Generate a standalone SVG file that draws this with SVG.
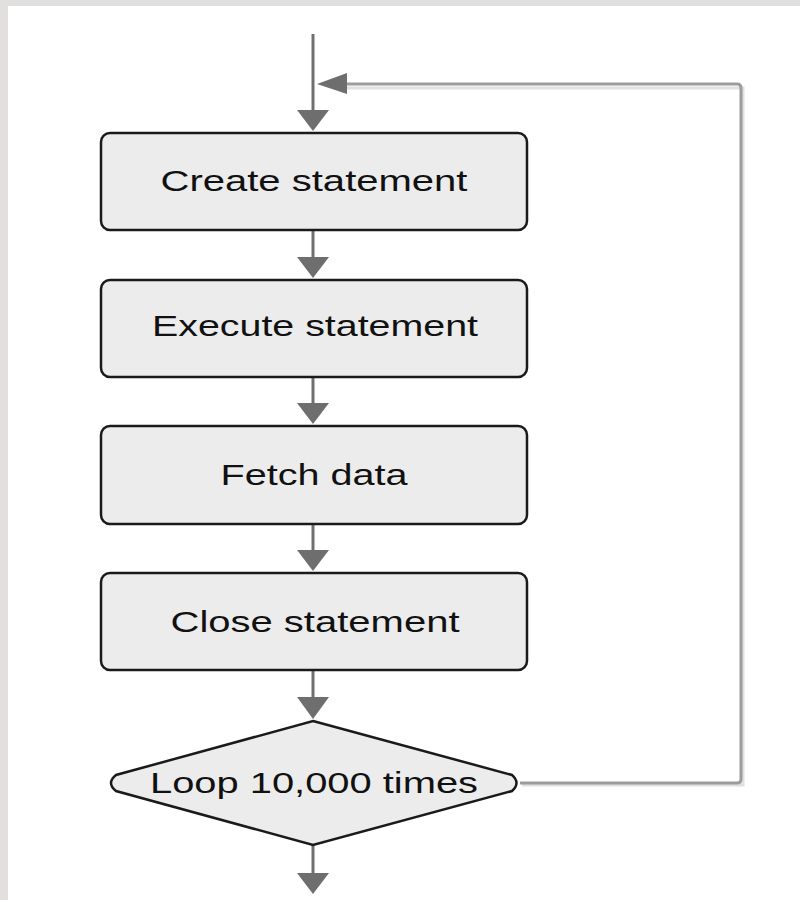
<svg xmlns="http://www.w3.org/2000/svg" width="800" height="900" viewBox="0 0 800 900">
<style>
.box{fill:#ececec;stroke:#1a1a1a;stroke-width:2.5}
.lbl{font-family:"Liberation Sans",Arial,sans-serif;font-size:29px;fill:#111;text-anchor:middle}
.flow{stroke:#707070;stroke-width:3;fill:none}
.loop{stroke:#9c9c9c;stroke-width:3;fill:none}
.loopsh{stroke:#e0e0e0;stroke-width:3;fill:none}
.ah{fill:#6e6e6e}
</style>
<rect x="0" y="0" width="800" height="900" fill="#e2dfdf"/>
<rect x="8" y="6" width="792" height="894" fill="#ffffff"/>
<g id="connectors">
  <line class="flow" x1="313" y1="34" x2="313" y2="112"/>
  <polygon class="ah" points="297,110 329,110 313,131"/>
  <line class="flow" x1="313" y1="231" x2="313" y2="259"/>
  <polygon class="ah" points="297,257 329,257 313,278"/>
  <line class="flow" x1="313" y1="377" x2="313" y2="405"/>
  <polygon class="ah" points="297,403 329,403 313,424"/>
  <line class="flow" x1="313" y1="524" x2="313" y2="552"/>
  <polygon class="ah" points="297,550 329,550 313,571"/>
  <line class="flow" x1="313" y1="670" x2="313" y2="699"/>
  <polygon class="ah" points="297,697 329,697 313,719"/>
  <line class="flow" x1="313" y1="845" x2="313" y2="875"/>
  <polygon class="ah" points="297,873 329,873 313,894"/>
  <path class="loopsh" d="M522,785 H743 V88 H345"/>
  <path class="loop" d="M520,783 H737 Q741,783 741,779 V88 Q741,84 737,84 H340"/>
  <polygon class="ah" points="347,73 347,94 317,84"/>
</g>
<g id="create">
  <rect class="box" x="101" y="133" width="426" height="97" rx="9"/>
  <text class="lbl" x="314" y="191" textLength="307" lengthAdjust="spacingAndGlyphs">Create statement</text>
</g>
<g id="execute">
  <rect class="box" x="101" y="280" width="426" height="97" rx="9"/>
  <text class="lbl" x="315" y="336" textLength="326" lengthAdjust="spacingAndGlyphs">Execute statement</text>
</g>
<g id="fetch">
  <rect class="box" x="101" y="426" width="426" height="98" rx="9"/>
  <text class="lbl" x="314" y="485" textLength="187" lengthAdjust="spacingAndGlyphs">Fetch data</text>
</g>
<g id="close">
  <rect class="box" x="101" y="573" width="426" height="97" rx="9"/>
  <text class="lbl" x="315" y="632" textLength="289" lengthAdjust="spacingAndGlyphs">Close statement</text>
</g>
<g id="loop">
  <path class="box" d="M313,721 L512,775 Q521,783 512,791 L313,845 L116,791 Q106,783 116,775 Z"/>
  <text class="lbl" x="314" y="793" textLength="328" lengthAdjust="spacingAndGlyphs">Loop 10,000 times</text>
</g>
</svg>
